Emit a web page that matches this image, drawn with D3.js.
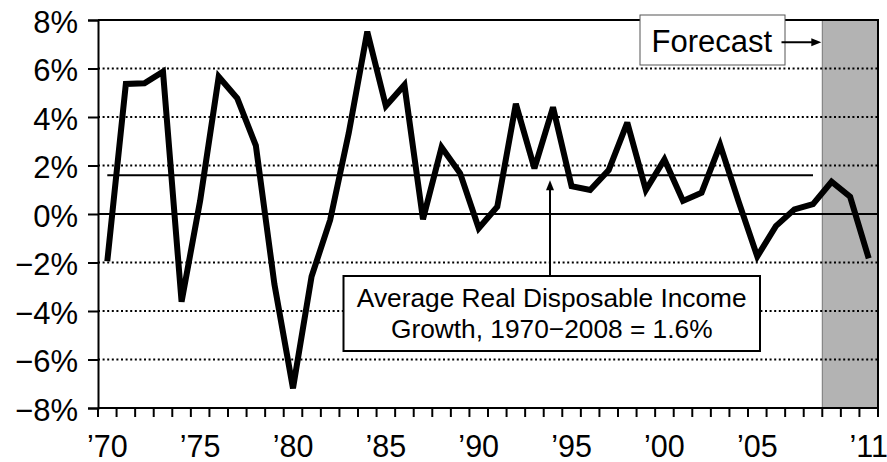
<!DOCTYPE html>
<html>
<head>
<meta charset="utf-8">
<script src="https://cdn.jsdelivr.net/npm/d3@7"></script>
<style>
  body { margin: 0; background: #fff; }
  svg { display: block; font-family: "Liberation Sans", Arial, sans-serif; }
</style>
</head>
<body>
<div id="wrapper"></div>
<script>
// Data
const years = [
    1970, 1971, 1972, 1973, 1974, 1975, 1976, 1977, 1978, 1979,
    1980, 1981, 1982, 1983, 1984, 1985, 1986, 1987, 1988, 1989,
    1990, 1991, 1992, 1993, 1994, 1995, 1996, 1997, 1998, 1999,
    2000, 2001, 2002, 2003, 2004, 2005, 2006, 2007, 2008, 2009,
    2010, 2011
];
const incomeGrowth = [
    -1.95, 5.36, 5.39, 5.87, -3.62, 0.55, 5.66, 4.77, 2.82, -2.9,
    -7.19, -2.58, -0.25, 3.33, 7.52, 4.45, 5.32, -0.22, 2.75, 1.68,
    -0.59, 0.30, 4.54, 1.88, 4.40, 1.15, 0.99, 1.81, 3.77, 0.99,
    2.25, 0.54, 0.88, 2.85, 0.5, -1.75, -0.5, 0.19, 0.41, 1.33,
    0.71, -1.83
];
const yTickValues = [-8, -6, -4, -2, 0, 2, 4, 6, 8];
const xLabelYears = [1970, 1975, 1980, 1985, 1990, 1995, 2000, 2005, 2011];
const averageGrowth = 1.6;
const averageFrom = 1970;
const averageTo = 2008;
const forecastFrom = 2009;
const forecastText = "Forecast";
const averageText = ["Average Real Disposable Income", "Growth, 1970\u22122008 = 1.6%"];

// Accessors
const yearAccessor = d => d.year;
const valueAccessor = d => d.value;

// Constants
const WIDTH = 887;
const HEIGHT = 462;

const dimensions = (() => {
    let dimensions = {
        width: WIDTH,
        height: HEIGHT,
        margin: { top: 20, right: 9, bottom: 54, left: 98 },
    };
    dimensions.boundedWidth = dimensions.width - dimensions.margin.left - dimensions.margin.right;
    dimensions.boundedHeight = dimensions.height - dimensions.margin.top - dimensions.margin.bottom;
    return dimensions;
})();

function drawChart() {
    const dataset = years.map((year, i) => ({ year, value: incomeGrowth[i] }));

    const wrapper = d3.select("#wrapper")
        .append("svg")
        .attr("width", dimensions.width)
        .attr("height", dimensions.height);

    const bounds = wrapper.append("g")
        .attr("transform", `translate(${dimensions.margin.left},${dimensions.margin.top})`);

    // Scales
    const xScale = d3.scaleBand()
        .domain(years)
        .range([0, dimensions.boundedWidth]);
    const yScale = d3.scaleLinear()
        .domain([-8, 8])
        .range([dimensions.boundedHeight, 0]);
    const xCenter = year => xScale(year) + xScale.bandwidth() / 2;

    // Forecast shading
    bounds.append("rect")
        .attr("x", xScale(forecastFrom))
        .attr("y", 0)
        .attr("width", dimensions.boundedWidth - xScale(forecastFrom))
        .attr("height", dimensions.boundedHeight)
        .attr("fill", "#b3b3b3")
        .attr("stroke", "#777")
        .attr("stroke-width", 1);

    // Dotted gridlines
    bounds.append("g")
        .selectAll("line")
        .data(yTickValues.filter(v => v !== 0 && Math.abs(v) !== 8))
        .join("line")
        .attr("x1", 0)
        .attr("x2", dimensions.boundedWidth)
        .attr("y1", d => yScale(d))
        .attr("y2", d => yScale(d))
        .attr("stroke", "#000")
        .attr("stroke-width", 2)
        .attr("stroke-dasharray", "2,2.6");

    // Zero line
    bounds.append("line")
        .attr("x1", 0)
        .attr("x2", dimensions.boundedWidth)
        .attr("y1", yScale(0))
        .attr("y2", yScale(0))
        .attr("stroke", "#000")
        .attr("stroke-width", 2);

    // Average line
    bounds.append("line")
        .attr("x1", xCenter(averageFrom))
        .attr("x2", xCenter(averageTo))
        .attr("y1", yScale(averageGrowth))
        .attr("y2", yScale(averageGrowth))
        .attr("stroke", "#000")
        .attr("stroke-width", 2);

    // Data line
    const lineGenerator = d3.line()
        .x(d => xCenter(yearAccessor(d)))
        .y(d => yScale(valueAccessor(d)));
    bounds.append("path")
        .attr("d", lineGenerator(dataset))
        .attr("fill", "none")
        .attr("stroke", "#000")
        .attr("stroke-width", 6)
        .attr("stroke-linejoin", "miter")
        .attr("stroke-miterlimit", 3);

    // Frame (top and right)
    bounds.append("path")
        .attr("d", `M0,0H${dimensions.boundedWidth}V${dimensions.boundedHeight}`)
        .attr("fill", "none")
        .attr("stroke", "#000")
        .attr("stroke-width", 2);

    // Y axis
    const yAxis = bounds.append("g")
        .call(d3.axisLeft(yScale)
            .tickValues(yTickValues)
            .tickSize(10)
            .tickPadding(10)
            .tickFormat(d => `${d < 0 ? "\u2212" : ""}${Math.abs(d)}%`));
    yAxis.select(".domain").attr("stroke-width", 2);
    yAxis.selectAll(".tick line").attr("stroke-width", 2);
    yAxis.selectAll("text")
        .attr("font-size", 31)
        .attr("font-family", "Liberation Sans, Arial, sans-serif")
        .attr("fill", "#000")
        .attr("dy", "0.4em");

    // X axis: ticks at band edges, labels at band centres
    const xAxis = bounds.append("g")
        .attr("transform", `translate(0,${dimensions.boundedHeight})`);
    xAxis.append("line")
        .attr("x1", 0)
        .attr("x2", dimensions.boundedWidth)
        .attr("stroke", "#000")
        .attr("stroke-width", 2);
    const edges = years.map(y => xScale(y)).concat([dimensions.boundedWidth]);
    xAxis.selectAll(".edge-tick")
        .data(edges)
        .join("line")
        .attr("class", "edge-tick")
        .attr("x1", d => d)
        .attr("x2", d => d)
        .attr("y1", 0)
        .attr("y2", 9)
        .attr("stroke", "#000")
        .attr("stroke-width", 2);
    xAxis.selectAll(".year-label")
        .data(xLabelYears)
        .join("text")
        .attr("class", "year-label")
        .attr("x", d => xCenter(d))
        .attr("y", 48.5)
        .attr("text-anchor", "middle")
        .attr("font-size", 30.5)
        .text(d => "\u2019" + String(d).slice(2));

    // Average annotation
    const annX = 452;
    const tipY = yScale(averageGrowth) + 5;
    const boxTop = 256;
    bounds.append("line")
        .attr("x1", annX)
        .attr("x2", annX)
        .attr("y1", tipY + 8)
        .attr("y2", boxTop)
        .attr("stroke", "#000")
        .attr("stroke-width", 2);
    bounds.append("path")
        .attr("d", `M${annX},${tipY}L${annX - 4},${tipY + 10}L${annX + 4},${tipY + 10}Z`)
        .attr("fill", "#000");
    const annBox = { x: 245.5, y: boxTop, w: 416.5, h: 75 };
    bounds.append("rect")
        .attr("x", annBox.x)
        .attr("y", annBox.y)
        .attr("width", annBox.w)
        .attr("height", annBox.h)
        .attr("fill", "#fff")
        .attr("stroke", "#000")
        .attr("stroke-width", 2);
    bounds.append("g")
        .selectAll("text")
        .data(averageText)
        .join("text")
        .attr("x", annBox.x + annBox.w / 2)
        .attr("y", (d, i) => 286.5 + i * 31)
        .attr("text-anchor", "middle")
        .attr("font-size", 26.3)
        .text(d => d);

    // Forecast label
    bounds.append("rect")
        .attr("x", 542)
        .attr("y", -5)
        .attr("width", 145)
        .attr("height", 50)
        .attr("fill", "#fff")
        .attr("stroke", "#555")
        .attr("stroke-width", 1);
    bounds.append("text")
        .attr("x", 553.5)
        .attr("y", 31.5)
        .attr("font-size", 31)
        .text(forecastText);
    const arrowTip = xScale(forecastFrom) - 1;
    bounds.append("line")
        .attr("x1", 683.5)
        .attr("x2", arrowTip - 8)
        .attr("y1", 22.3)
        .attr("y2", 22.3)
        .attr("stroke", "#000")
        .attr("stroke-width", 2);
    bounds.append("path")
        .attr("d", `M${arrowTip},22.3L${arrowTip - 10},18.3L${arrowTip - 10},26.3Z`)
        .attr("fill", "#000");
}
drawChart();
</script>
</body>
</html>
